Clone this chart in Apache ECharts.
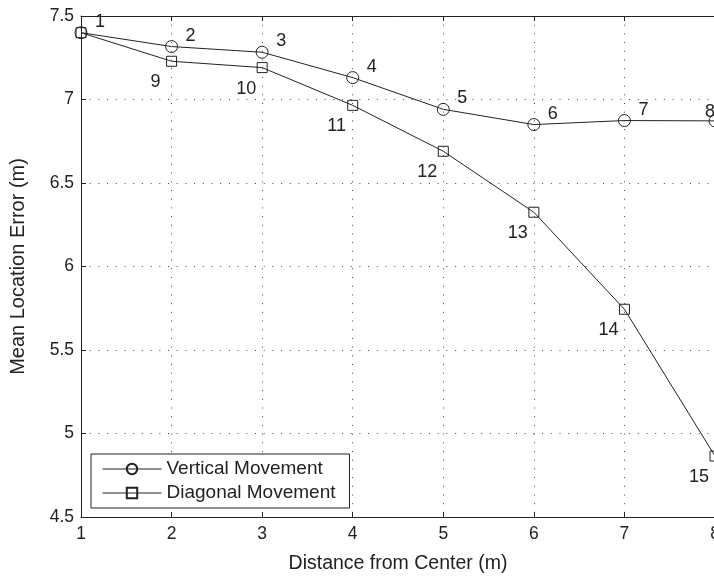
<!DOCTYPE html>
<html>
<head>
<meta charset="utf-8">
<script src="https://cdn.jsdelivr.net/npm/echarts@6/dist/echarts.min.js"></script>
<style>
  html, body { margin: 0; padding: 0; background: #fff; }
  #chart { width: 714px; height: 578px; }
</style>
</head>
<body>
<div id="chart"></div>
<script>
  // distance from center (m)
  let distance = [1, 2, 3, 4, 5, 6, 7, 8];
  let verticalError = [7.40, 7.317, 7.283, 7.131, 6.941, 6.850, 6.874, 6.872];
  let diagonalError = [7.40, 7.229, 7.191, 6.965, 6.690, 6.325, 5.744, 4.865];
  let verticalTags = ['1', '2', '3', '4', '5', '6', '7', '8'];
  let diagonalTags = ['', '9', '10', '11', '12', '13', '14', '15'];

  let font = 'Liberation Sans, Arial, Helvetica, sans-serif';
  let ink = '#222';

  let chart = echarts.init(document.getElementById('chart'));

  let dotted = { color: '#444', width: 1, type: [1, 7.7] };

  let baseX = {
    type: 'value', min: 1, max: 8, interval: 1,
    axisLine: { show: true, onZero: false, lineStyle: { color: ink, width: 1 } },
    axisTick: { show: true, inside: true, length: 5, lineStyle: { color: ink } },
    splitLine: { show: false }
  };

  let option = {
    animation: false,
    textStyle: { fontFamily: font },
    grid: {
      left: 81, right: -1, top: 16, bottom: 61,
      outerBoundsMode: 'none',
      containLabel: false
    },
    xAxis: [
      Object.assign({}, baseX, {
        position: 'bottom',
        name: 'Distance from Center (m)',
        nameLocation: 'middle',
        nameGap: 37,
        nameTextStyle: { fontSize: 19.5, color: ink, fontFamily: font },
        axisLabel: { fontSize: 17.5, color: ink, margin: 8, fontFamily: font },
        splitLine: { show: true, lineStyle: dotted }
      }),
      Object.assign({}, baseX, {
        position: 'top',
        axisLabel: { show: false }
      })
    ],
    yAxis: {
      type: 'value', min: 4.5, max: 7.5, interval: 0.5,
      name: 'Mean Location Error (m)',
      nameLocation: 'middle',
      nameGap: 53,
      nameTextStyle: { fontSize: 20, color: ink, fontFamily: font },
      axisLine: { show: true, lineStyle: { color: ink, width: 1 } },
      axisTick: { show: true, inside: true, length: 5, lineStyle: { color: ink } },
      axisLabel: { fontSize: 17.5, color: ink, margin: 7, fontFamily: font },
      splitLine: { show: true, lineStyle: dotted }
    },
    legend: {
      orient: 'vertical',
      left: 91, top: 454,
      padding: [5, 14, 5, 11],
      itemGap: 4,
      itemWidth: 59,
      itemHeight: 13,
      borderColor: ink,
      borderWidth: 1,
      backgroundColor: '#fff',
      lineStyle: { width: 1 },
      textStyle: { fontSize: 19, color: ink, fontFamily: font, lineHeight: 20 },
      data: ['Vertical Movement', 'Diagonal Movement']
    },
    series: []
  };

  function makeSeries(name, values, tags, symbol, size, shift, lastShift) {
    return {
      name: name,
      type: 'line',
      data: distance.map(function (d, i) { return [d, values[i]]; }),
      symbol: symbol,
      symbolSize: size,
      showAllSymbol: true,
      clip: false,
      lineStyle: { color: ink, width: 1 },
      itemStyle: { color: 'rgba(255,255,255,0)', borderColor: ink, borderWidth: 1 },
      label: {
        show: true,
        position: 'inside',
        fontSize: 18,
        color: ink,
        fontFamily: font,
        formatter: function (p) { return tags[p.dataIndex]; }
      },
      labelLayout: function (p) {
        // the last tag sits closer so it still peeks in at the cut edge
        let s = p.dataIndex === distance.length - 1 ? lastShift : shift;
        return { hideOverlap: false, dx: s[0], dy: s[1] };
      },
      emphasis: { disabled: true }
    };
  }

  option.series.push(makeSeries('Vertical Movement', verticalError, verticalTags, 'circle', 12, [19, -11], [-5, -9]));
  option.series.push(makeSeries('Diagonal Movement', diagonalError, diagonalTags, 'rect', 10, [-16, 21], [-16, 21]));

  chart.setOption(option);
</script>
</body>
</html>
